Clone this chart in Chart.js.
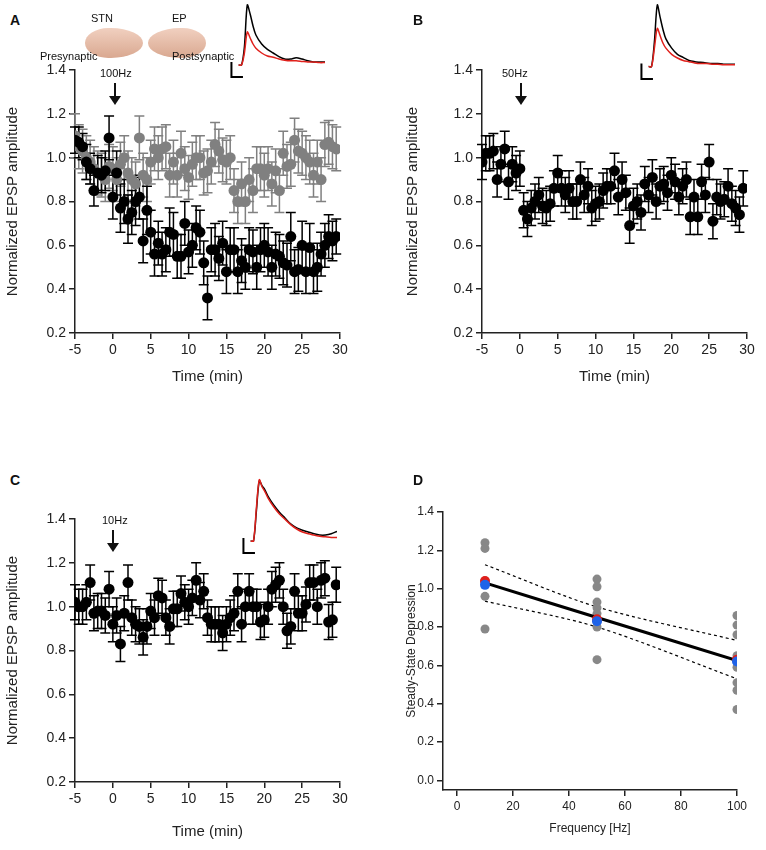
<!DOCTYPE html>
<html><head><meta charset="utf-8">
<script src="https://cdn.jsdelivr.net/npm/chart.js@4"></script>
<style>
body{margin:0;background:#fff;font-family:Arial,"Liberation Sans",sans-serif;}
#wrap{position:relative;width:766px;height:850px;}
canvas{position:absolute;}
.t{position:absolute;color:#111;white-space:nowrap;}
.lab{font-weight:bold;font-size:14px;}
.arrow{position:absolute;width:2px;background:#111;}
.head{position:absolute;width:0;height:0;border-left:6px solid transparent;border-right:6px solid transparent;border-top:9px solid #111;}
</style></head><body><div id="wrap">
<canvas id="cA"></canvas><canvas id="cB"></canvas><canvas id="cC"></canvas><canvas id="cD"></canvas>
<canvas id="iA"></canvas><canvas id="iB"></canvas><canvas id="iC"></canvas>
<div class="t lab" style="left:10px;top:12px">A</div>
<div class="t lab" style="left:413px;top:12px">B</div>
<div class="t lab" style="left:10px;top:472px">C</div>
<div class="t lab" style="left:413px;top:472px">D</div>
<div style="position:absolute;left:85px;top:28px;width:58px;height:30px;background:linear-gradient(#f1d0c0,#d9a890);border-radius:40% 55% 55% 40%/50%"></div>
<div style="position:absolute;left:148px;top:28px;width:58px;height:30px;background:linear-gradient(#f1d0c0,#d9a890);border-radius:55% 40% 40% 55%/50%"></div>
<div class="t" style="left:91px;top:12px;font-size:11px">STN</div>
<div class="t" style="left:172px;top:12px;font-size:11px">EP</div>
<div class="t" style="left:40px;top:50px;font-size:11px">Presynaptic</div>
<div class="t" style="left:172px;top:50px;font-size:11px">Postsynaptic</div>
<div class="t" style="left:100px;top:67px;font-size:11px">100Hz</div>
<div class="arrow" style="left:114px;top:83px;height:14px"></div><div class="head" style="left:109px;top:96px"></div>
<div class="t" style="left:502px;top:67px;font-size:11px">50Hz</div>
<div class="arrow" style="left:520px;top:83px;height:14px"></div><div class="head" style="left:515px;top:96px"></div>
<div class="t" style="left:102px;top:514px;font-size:11px">10Hz</div>
<div class="arrow" style="left:112px;top:530px;height:14px"></div><div class="head" style="left:107px;top:543px"></div>
</div>
<script>
const timeMin = Array.from({length:70},(_, i)=>-5+i*0.5);
const aBlack = [1.08,1.07,1.05,0.98,0.95,0.85,0.93,0.92,0.94,1.09,0.82,0.93,0.77,0.80,0.72,0.75,0.80,0.82,0.62,0.76,0.66,0.56,0.61,0.56,0.58,0.66,0.65,0.55,0.55,0.70,0.57,0.60,0.68,0.66,0.52,0.36,0.58,0.58,0.54,0.61,0.48,0.58,0.58,0.48,0.53,0.50,0.58,0.57,0.50,0.58,0.60,0.57,0.50,0.56,0.55,0.52,0.51,0.64,0.48,0.49,0.60,0.48,0.59,0.48,0.50,0.56,0.60,0.64,0.62,0.64];
const aBlackErr = [0.06,0.07,0.06,0.08,0.07,0.07,0.08,0.08,0.09,0.1,0.1,0.1,0.11,0.1,0.11,0.1,0.11,0.1,0.1,0.11,0.1,0.1,0.1,0.1,0.1,0.11,0.1,0.1,0.1,0.1,0.1,0.1,0.1,0.1,0.1,0.1,0.1,0.12,0.1,0.1,0.1,0.1,0.1,0.1,0.1,0.1,0.1,0.1,0.1,0.1,0.1,0.11,0.1,0.1,0.1,0.1,0.1,0.11,0.1,0.1,0.11,0.1,0.11,0.1,0.11,0.1,0.1,0.1,0.09,0.08];
const aGrey = [1.10,1.05,1.03,1.00,0.98,0.95,0.93,0.92,0.90,0.96,0.95,0.90,0.97,1.00,0.93,0.90,0.88,1.09,0.92,0.90,0.98,1.04,1.00,1.04,1.05,0.92,0.98,0.92,1.02,0.95,0.91,0.97,1.00,1.00,0.93,0.94,0.98,1.06,1.03,0.99,0.98,1.00,0.85,0.80,0.88,0.80,0.90,0.85,0.95,0.95,0.92,0.95,0.88,0.94,0.85,1.02,0.96,0.97,1.08,1.03,1.02,1.00,0.98,0.92,0.98,0.90,1.06,1.07,1.05,1.04];
const aGreyErr = Array(70).fill(0.1);
const bBlack = [0.98,1.02,1.02,1.03,0.90,0.97,1.04,0.89,0.97,0.93,0.95,0.76,0.72,0.77,0.80,0.83,0.78,0.77,0.79,0.86,0.93,0.86,0.83,0.86,0.80,0.80,0.90,0.83,0.87,0.77,0.79,0.80,0.85,0.87,0.87,0.94,0.82,0.90,0.84,0.69,0.78,0.80,0.75,0.88,0.83,0.91,0.80,0.87,0.88,0.84,0.92,0.89,0.82,0.87,0.90,0.73,0.82,0.73,0.89,0.83,0.98,0.71,0.82,0.80,0.81,0.87,0.79,0.77,0.74,0.86];
const bErr = Array(70).fill(0.08);
const cBlack = [1.02,1.00,1.00,1.02,1.11,0.97,0.98,0.98,0.96,1.08,0.92,0.96,0.83,0.97,1.11,0.95,0.92,0.91,0.86,0.91,0.98,0.95,1.05,1.04,0.95,0.91,0.99,0.99,1.06,1.02,1.00,1.04,1.12,1.03,1.07,0.95,0.92,0.92,0.92,0.88,0.92,0.95,0.97,1.07,0.92,1.00,1.07,1.00,1.00,0.93,0.94,1.00,1.08,1.10,1.12,1.00,0.89,0.91,1.07,0.97,0.97,1.01,1.11,1.11,1.00,1.12,1.13,0.93,0.94,1.10];
const cErr = Array(70).fill(0.08);
const dFreq = [10,10,10,10,10,50,50,50,50,50,50,50,50,100,100,100,100,100,100,100,100];
const dGrey = [1.24,1.21,1.04,0.96,0.79,1.05,1.01,0.93,0.90,0.87,0.83,0.80,0.63,0.86,0.81,0.76,0.65,0.59,0.51,0.47,0.37];
const dFreqMean = [10,50,100];
const dRed = [1.04,0.84,0.63];
const dBlue = [1.02,0.83,0.62];
const dFit = [1.03,0.85,0.625];
const dUpper = [1.125,0.905,0.73];
const dLower = [0.935,0.80,0.53];
const yTicksEPSP = [0.2,0.4,0.6,0.8,1.0,1.2,1.4];
const xTicksTime = [-5,0,5,10,15,20,25,30];
const traceT = [0,1,2,3,4,5,6,8,10,12,14,16,18,20,22,24,26,28,30];
const traceABlack = [0,0,0.3,1.0,0.85,0.65,0.5,0.35,0.26,0.2,0.14,0.1,0.1,0.12,0.1,0.07,0.05,0.05,0.05];
const traceARed = [0,0,0.2,0.55,0.45,0.35,0.28,0.2,0.15,0.13,0.1,0.08,0.07,0.07,0.06,0.05,0.05,0.04,0.04];
const traceBBlack = [0,0,0.4,1.0,0.8,0.6,0.45,0.3,0.2,0.15,0.1,0.08,0.07,0.06,0.05,0.05,0.04,0.04,0.04];
const traceBRed = [0,0,0.3,0.62,0.5,0.38,0.3,0.2,0.14,0.1,0.08,0.06,0.05,0.05,0.04,0.04,0.03,0.03,0.03];
const traceCBlack = [0,0,0.5,1.0,0.92,0.85,0.75,0.6,0.48,0.38,0.28,0.22,0.18,0.15,0.12,0.1,0.1,0.12,0.16];
const traceCRed = [0,0,0.55,1.02,0.9,0.82,0.72,0.57,0.45,0.36,0.27,0.2,0.15,0.12,0.1,0.08,0.07,0.06,0.06];

const errPlugin = {id:'err', beforeDatasetsDraw(ch){
  const ctx=ch.ctx, xs=ch.scales.x, ys=ch.scales.y;
  ch.data.datasets.forEach(ds=>{ if(!ds.errs) return;
    ctx.save(); ctx.strokeStyle=ds.backgroundColor; ctx.lineWidth=1.5;
    ds.data.forEach((p,i)=>{ const x=xs.getPixelForValue(p.x), y1=ys.getPixelForValue(p.y+ds.errs[i]), y2=ys.getPixelForValue(p.y-ds.errs[i]);
      ctx.beginPath(); ctx.moveTo(x,y1); ctx.lineTo(x,y2); ctx.moveTo(x-5,y1); ctx.lineTo(x+5,y1); ctx.moveTo(x-5,y2); ctx.lineTo(x+5,y2); ctx.stroke();});
    ctx.restore();});
}};
function place(id,cx,cy,cw,ch){const c=document.getElementById(id);c.style.left=cx+'px';c.style.top=cy+'px';c.width=cw;c.height=ch;return c;}
function pts(xs,ys){return xs.map((x,i)=>({x,y:ys[i]}));}
function panel(id,cx,cy,cw,chh,area,datasets,o){
  const c=place(id,cx,cy,cw,chh);
  const fs=o.fs||14;
  new Chart(c,{type:'scatter',data:{datasets},plugins:[errPlugin],options:{
    responsive:false,animation:false,events:[],
    layout:{padding:{top:area.t-cy,right:cx+cw-area.r,left:0,bottom:0}},
    plugins:{legend:{display:false},tooltip:{enabled:false}},
    scales:{
      x:{type:'linear',min:o.xmin,max:o.xmax,afterBuildTicks:s=>{s.ticks=o.xt.map(v=>({value:v}));},
        afterFit:s=>{s.height=cy+chh-area.b;},
        grid:{drawOnChartArea:false,tickLength:6,color:'#222',lineWidth:1.5},border:{color:'#222',width:1.5},
        ticks:{color:'#222',font:{size:fs},padding:3,maxRotation:0,callback:v=>o.xf?o.xf(v):v},
        title:{display:true,text:o.xtitle,color:'#222',font:{size:o.tfs||15},padding:{top:o.xpad||16}}},
      y:{min:o.ymin,max:o.ymax,afterBuildTicks:s=>{s.ticks=o.yt.map(v=>({value:v}));},
        afterFit:s=>{s.width=area.l-cx;},
        grid:{drawOnChartArea:false,tickLength:6,color:'#222',lineWidth:1.5},border:{color:'#222',width:1.5},
        ticks:{color:'#222',font:{size:fs},padding:3,callback:v=>v.toFixed(1)},
        title:{display:true,text:o.ytitle,color:'#222',font:{size:o.tfs||15},padding:{bottom:o.ypad||4}}}
    }}});
}
const dot=(data,color,errs,order)=>({data,errs,order,backgroundColor:color,borderColor:color,pointRadius:5.5,pointBorderWidth:0});
const timeOpts={xmin:-5,xmax:30,xt:xTicksTime,ymin:0.2,ymax:1.4,yt:yTicksEPSP,xtitle:'Time (min)',ytitle:'Normalized EPSP amplitude'};
panel('cA',0,50,360,340,{l:75,r:340,t:70,b:333},[dot(pts(timeMin,aGrey),'#808080',aGreyErr,2),dot(pts(timeMin,aBlack),'#000',aBlackErr,1)],timeOpts);
panel('cB',400,50,362,340,{l:482,r:747,t:70,b:333},[dot(pts(timeMin,bBlack),'#000',bErr,1)],timeOpts);
panel('cC',0,500,360,345,{l:75,r:340,t:519,b:782},[dot(pts(timeMin,cBlack),'#000',cErr,1)],timeOpts);
const ln=(ys,dash,w,order)=>({type:'line',order,data:pts(dFreqMean,ys),borderColor:'#000',borderWidth:w,borderDash:dash,pointRadius:0,tension:0.3,fill:false});
panel('cD',400,495,355,345,{l:443,r:737,t:512,b:790},[
  ln(dUpper,[3,3],1.2,6),ln(dLower,[3,3],1.2,6),
  {data:pts(dFreq,dGrey),order:5,backgroundColor:'#888',pointRadius:4.5,pointBorderWidth:0},
  ln(dFit,[],3,4),
  {data:pts(dFreqMean,dRed),order:3,backgroundColor:'#e0201b',pointRadius:5,pointBorderWidth:0},
  {data:pts(dFreqMean,dBlue),order:2,backgroundColor:'#1f63e8',pointRadius:5,pointBorderWidth:0}
],{xmin:-5,xmax:100,xt:[0,20,40,60,80,100],ymin:-0.05,ymax:1.4,yt:[0,0.2,0.4,0.6,0.8,1.0,1.2,1.4],xtitle:'Frequency [Hz]',ytitle:'Steady-State Depression',fs:12,tfs:12,xpad:4,ypad:10});

function inset(id,cx,cy,cw,chh,b,r){
  const c=place(id,cx,cy,cw,chh);
  new Chart(c,{type:'line',data:{datasets:[
    {data:pts(traceT,r),borderColor:'#e0201b',borderWidth:1.5,pointRadius:0,tension:0.3},
    {data:pts(traceT,b),borderColor:'#000',borderWidth:1.5,pointRadius:0,tension:0.3}]},
    options:{responsive:false,animation:false,events:[],plugins:{legend:{display:false},tooltip:{enabled:false}},
    scales:{x:{type:'linear',display:false,min:-3,max:30},y:{display:false,min:-0.25,max:1.05}}},
    plugins:[{id:'sb',afterDraw(ch){const g=ch.ctx,xs=ch.scales.x,ys=ch.scales.y;g.save();g.strokeStyle='#000';g.lineWidth=2;
      g.beginPath();g.moveTo(xs.getPixelForValue(-2.5),ys.getPixelForValue(0.05));g.lineTo(xs.getPixelForValue(-2.5),ys.getPixelForValue(-0.2));g.lineTo(xs.getPixelForValue(1.5),ys.getPixelForValue(-0.2));g.stroke();g.restore();}}]});
}
inset('iA',230,2,95,78,traceABlack,traceARed);
inset('iB',640,2,95,80,traceBBlack,traceBRed);
inset('iC',242,478,95,78,traceCBlack,traceCRed);
</script></body></html>
